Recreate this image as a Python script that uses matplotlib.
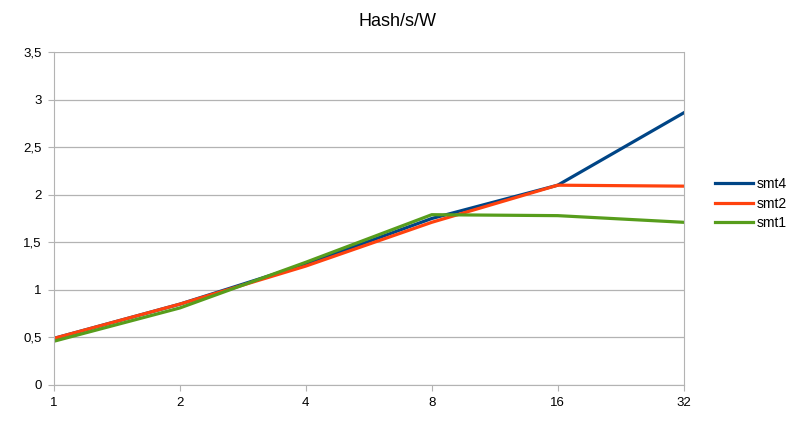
import numpy as np
import matplotlib.pyplot as plt

plt.rcParams['font.family'] = ['Liberation Sans', 'DejaVu Sans']

# Data
threads = ['1', '2', '4', '8', '16', '32']
smt4 = [0.49, 0.85, 1.27, 1.75, 2.10, 2.86]
smt2 = [0.49, 0.85, 1.25, 1.71, 2.10, 2.09]
smt1 = [0.46, 0.81, 1.29, 1.79, 1.78, 1.71]

series = [('smt4', smt4, '#004586'), ('smt2', smt2, '#ff420e'), ('smt1', smt1, '#579d1c')]

fig = plt.figure(figsize=(7.94, 4.28), dpi=100)
ax = fig.add_axes([0.068, 0.1005, 0.793, 0.778])

x = np.arange(len(threads))
for name, vals, col in series:
    ax.plot(x, vals, color=col, linewidth=2.3, label=name, solid_joinstyle='round')

ax.set_xlim(0, len(threads) - 1)
ax.set_ylim(0, 3.5)
ax.set_xticks(x)
ax.set_xticklabels(threads)
yt = np.arange(0, 3.51, 0.5)
ax.set_yticks(yt)
ax.set_yticklabels([f'{v:g}'.replace('.', ',') for v in yt])

ax.grid(axis='y', color='#b3b3b3', linewidth=0.9)
ax.set_axisbelow(True)
for s in ['left', 'bottom', 'right']:
    ax.spines[s].set_color('#b3b3b3')
ax.spines['top'].set_visible(False)
ax.tick_params(colors='#b3b3b3', labelcolor='black', labelsize=9.5, length=4, pad=5)

fig.suptitle('Hash/s/W', fontsize=13, y=0.97)

ax.legend(loc='center left', bbox_to_anchor=(1.03, 0.545), frameon=False,
          fontsize=10, handlelength=2.75, handletextpad=0.25, labelspacing=0.42)

plt.savefig('out.png', dpi=100)
